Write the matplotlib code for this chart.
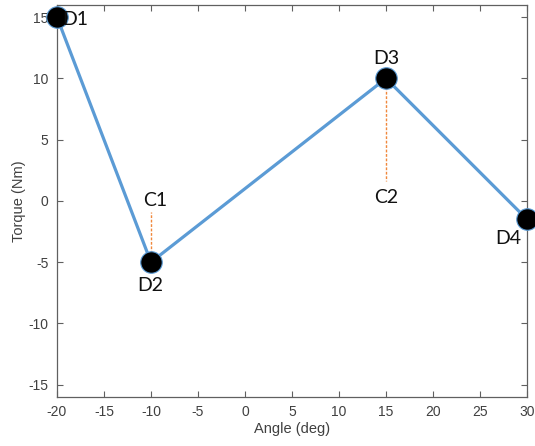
import matplotlib
matplotlib.use("Agg")
import matplotlib.pyplot as plt

plt.rcParams["axes.unicode_minus"] = False

# Data
angles = [-20, -10, 15, 30]
torques = [15, -5, 10, -1.5]
point_labels = ["D1", "D2", "D3", "D4"]
label_pos = [(-18.1, 14.8), (-10.1, -6.9), (15.0, 11.6), (28.0, -3.1)]
c_labels = ["C1", "C2"]
c_x = [-10, 15]
c_y_start = [-5, 10]
c_y_end = [-0.9, 1.6]
c_label_pos = [(-9.5, 0.0), (15.0, 0.3)]
xticks = list(range(-20, 31, 5))
yticks = list(range(-15, 16, 5))

fig = plt.figure(figsize=(5.35, 4.46), dpi=100)
ax = fig.add_axes([0.1065, 0.110, 0.8785, 0.879])

line_color = "#5B9BD5"
for xc, y0, y1 in zip(c_x, c_y_start, c_y_end):
    ax.plot([xc, xc], [y0, y1], color="#F0883C", lw=1.0, ls=(0, (2, 1.2)), zorder=2)

ax.plot(angles, torques, color=line_color, lw=2.3, zorder=3, clip_on=False)
ax.plot(angles, torques, ls="none", marker="o", ms=15.5, mfc="black",
        mec=line_color, mew=0.8, zorder=4, clip_on=False)

lab_font = dict(family=["Lato", "DejaVu Sans"], fontsize=14, color="#111111")
for (lx, ly), t in zip(label_pos, point_labels):
    ax.text(lx, ly, t, ha="center", va="center", zorder=5, clip_on=False, **lab_font)
for (lx, ly), t in zip(c_label_pos, c_labels):
    ax.text(lx, ly, t, ha="center", va="center", zorder=5, clip_on=False, **lab_font)

ax.set_xlim(-20, 30)
ax.set_ylim(-16, 16)
ax.set_xticks(xticks)
ax.set_yticks(yticks)
tick_col = "#404040"
ax.tick_params(direction="in", length=4, width=0.8, color="#606060",
               top=True, right=True, labelsize=10, labelcolor=tick_col, pad=6)
for lbl in ax.get_xticklabels() + ax.get_yticklabels():
    lbl.set_fontfamily("Liberation Sans")
for s in ax.spines.values():
    s.set_color("#606060")
    s.set_linewidth(0.9)

ax.set_xlabel("Angle (deg)", fontsize=10.5, color=tick_col, family="Liberation Sans", labelpad=2)
ax.set_ylabel("Torque (Nm)", fontsize=10.5, color=tick_col, family="Liberation Sans", labelpad=2)

fig.savefig("out.png", dpi=100)
